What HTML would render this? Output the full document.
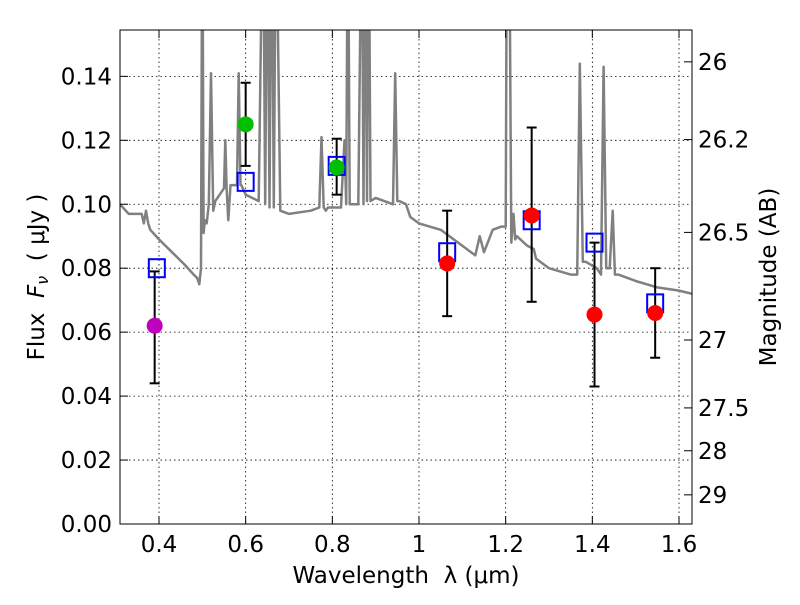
<!DOCTYPE html>
<html><head><meta charset="utf-8"><style>
body{margin:0;background:#fff}
svg text{font-family:"DejaVu Sans","Liberation Sans",sans-serif;fill:#000;white-space:pre}
</style></head><body>
<svg id="chart" width="800" height="600" xmlns="http://www.w3.org/2000/svg">
<defs><clipPath id="clip"><rect x="120" y="30" width="572" height="494"/></clipPath></defs>
<g id="grid"></g>
<g id="spec" clip-path="url(#clip)"></g>
<g id="marks"></g>
<rect x="120" y="30" width="572" height="494" fill="none" stroke="#000" stroke-width="1"/>
<g id="ticks"></g>
<text x="406" y="583" font-size="23" text-anchor="middle">Wavelength  λ (μm)</text>
<text transform="translate(44,277) rotate(-90)" font-size="23" text-anchor="middle">Flux  <tspan font-style="italic">F</tspan><tspan font-style="italic" font-size="16" dy="4">ν</tspan><tspan dy="-4">  ( μJy )</tspan></text>
<text transform="translate(776,277) rotate(-90)" font-size="23" text-anchor="middle">Magnitude (AB)</text>
</svg>
<script>
const xTicks=[0.4,0.6,0.8,1.0,1.2,1.4,1.6];
const xTickLabels=["0.4","0.6","0.8","1","1.2","1.4","1.6"];
const yTicks=[0,0.02,0.04,0.06,0.08,0.10,0.12,0.14];
const yTickLabels=["0.00","0.02","0.04","0.06","0.08","0.10","0.12","0.14"];
const magTicks=[26,26.2,26.5,27,27.5,28,29];
const magTickLabels=["26","26.2","26.5","27","27.5","28","29"];
const specLam=[0.31,0.33,0.36,0.365,0.37,0.375,0.38,0.40,0.43,0.46,0.48,0.488,0.493,0.497,0.50,0.503,0.506,0.51,0.515,0.52,0.525,0.53,0.55,0.553,0.556,0.56,0.565,0.58,0.584,0.588,0.59,0.6,0.63,0.64,0.645,0.65,0.655,0.66,0.665,0.67,0.68,0.7,0.75,0.77,0.775,0.78,0.785,0.79,0.82,0.828,0.832,0.836,0.84,0.86,0.868,0.872,0.876,0.88,0.884,0.888,0.9,0.92,0.94,0.945,0.95,0.955,0.97,0.98,1.0,1.05,1.08,1.1,1.13,1.14,1.15,1.17,1.19,1.2,1.203,1.208,1.213,1.218,1.222,1.226,1.25,1.265,1.27,1.3,1.35,1.365,1.371,1.378,1.385,1.41,1.42,1.426,1.432,1.44,1.447,1.452,1.46,1.5,1.55,1.6,1.63];
const specFlux=[0.100,0.097,0.097,0.094,0.098,0.094,0.092,0.089,0.085,0.081,0.078,0.077,0.075,0.080,0.20,0.091,0.095,0.094,0.100,0.141,0.098,0.101,0.105,0.120,0.105,0.095,0.106,0.106,0.141,0.106,0.106,0.103,0.101,0.20,0.100,0.20,0.099,0.20,0.099,0.20,0.098,0.097,0.098,0.099,0.121,0.099,0.098,0.099,0.099,0.120,0.100,0.20,0.100,0.100,0.20,0.100,0.20,0.101,0.20,0.101,0.102,0.101,0.100,0.141,0.101,0.101,0.100,0.096,0.094,0.092,0.089,0.087,0.084,0.090,0.085,0.092,0.093,0.093,0.20,0.20,0.088,0.097,0.089,0.090,0.087,0.086,0.083,0.080,0.078,0.078,0.144,0.082,0.082,0.080,0.078,0.143,0.080,0.080,0.098,0.078,0.078,0.076,0.074,0.073,0.072];
const modelLam=[0.395,0.6,0.81,1.065,1.26,1.405,1.545];
const modelFlux=[0.080,0.107,0.112,0.085,0.095,0.088,0.069];
const obsLam=[0.39,0.6,0.81,1.065,1.26,1.405,1.545];
const obsFlux=[0.062,0.125,0.1115,0.0815,0.0965,0.0655,0.066];
const obsLo=[0.044,0.112,0.103,0.065,0.0695,0.043,0.052];
const obsHi=[0.079,0.138,0.1205,0.098,0.124,0.088,0.080];
const obsColor=["#bf00bf","#00bf00","#00bf00","#ff0000","#ff0000","#ff0000","#ff0000"];

const NS="http://www.w3.org/2000/svg";
const X=l=>120+(l-0.31)/(1.63-0.31)*572;
const Y=f=>524-f/0.1545*494;
const magToFlux=m=>Math.pow(10,(23.9-m)/2.5);
function mk(tag,attrs,parent){const e=document.createElementNS(NS,tag);for(const k in attrs)e.setAttribute(k,attrs[k]);parent.appendChild(e);return e;}
const grid=document.getElementById('grid'),ticks=document.getElementById('ticks');
xTicks.forEach((t,i)=>{
  const g=mk('line',{x1:X(t),x2:X(t),y1:30,y2:524,stroke:'#000','stroke-width':0.8,'stroke-dasharray':'1.5,3'},grid);
  
  
  mk('line',{x1:X(t),x2:X(t),y1:524,y2:516,stroke:'#000'},ticks);
  mk('line',{x1:X(t),x2:X(t),y1:30,y2:38,stroke:'#000'},ticks);
  const tx=mk('text',{x:X(t),y:552,'font-size':23,'text-anchor':'middle'},ticks);
  
  
  tx.textContent=xTickLabels[i];
});
yTicks.forEach((t,i)=>{
  const g=mk('line',{x1:120,x2:692,y1:Y(t),y2:Y(t),stroke:'#000','stroke-width':0.8,'stroke-dasharray':'1.5,3'},grid);
  
  
  mk('line',{x1:120,x2:128,y1:Y(t),y2:Y(t),stroke:'#000'},ticks);
  const tx=mk('text',{x:112,y:Y(t)+8,'font-size':23,'text-anchor':'end'},ticks);
  
  
  tx.textContent=yTickLabels[i];
});
magTicks.forEach((m,i)=>{
  const y=Y(magToFlux(m));
  mk('line',{x1:684,x2:692,y1:y,y2:y,stroke:'#000'},ticks);
  const tx=mk('text',{x:698,y:y+8,'font-size':23},ticks);
  
  
  tx.textContent=magTickLabels[i];
});
const spec=document.getElementById('spec');
const sp=mk('path',{d:specLam.map((l,i)=>(i?'L':'M')+X(l).toFixed(1)+','+Y(specFlux[i]).toFixed(1)).join(''),fill:'none',stroke:'#808080','stroke-width':2.5,'stroke-linejoin':'round'},spec);


const marks=document.getElementById('marks');
obsLam.forEach((l,i)=>{
  const x=X(l);
  const e=mk('line',{x1:x,x2:x,y1:Y(obsLo[i]),y2:Y(obsHi[i]),stroke:'#000','stroke-width':2},marks);
  
  
  mk('line',{x1:x-5,x2:x+5,y1:Y(obsLo[i]),y2:Y(obsLo[i]),stroke:'#000','stroke-width':2},marks);
  mk('line',{x1:x-5,x2:x+5,y1:Y(obsHi[i]),y2:Y(obsHi[i]),stroke:'#000','stroke-width':2},marks);
});
modelLam.forEach((l,i)=>{
  const r=mk('rect',{x:X(l)-8,y:Y(modelFlux[i])-9,width:16,height:18,fill:'none',stroke:'#0000ff','stroke-width':2},marks);
  
  
});
obsLam.forEach((l,i)=>{
  const c=mk('circle',{cx:X(l),cy:Y(obsFlux[i]),r:8,fill:obsColor[i]},marks);
  
  
});
</script>
</body></html>
